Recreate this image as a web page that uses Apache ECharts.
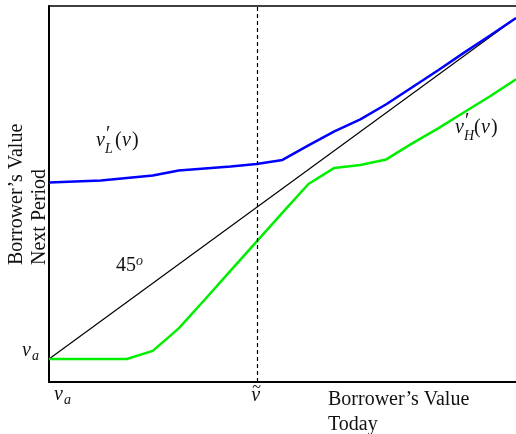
<!DOCTYPE html>
<html><head><meta charset="utf-8">
<script src="https://cdn.jsdelivr.net/npm/echarts@6/dist/echarts.min.js"></script>
<style>html,body{margin:0;padding:0;background:#fff}#c{width:516px;height:434px}</style>
</head><body><div id="c"></div>
<script>
// x positions (abstract units, 0 = v_a)
const xValues = [0,1,2,3,4,5,6,7,8,9,10,11,12,13,14,15,16,17,18];
const vL = [199,200,201,203.5,206,211,213,215,217.5,221.5,236,250,262,277,294,311,328.5,345.5,363];
const vH = [23,23,23,23,31,53.5,82,111,140,169,197.5,213.5,216.5,222,238,253,269,285,302];
const line45 = [[0,23],[18,363]];
const vTilde = 8.03;
const vA = 23;

const chart = echarts.init(document.getElementById('c'), null, {renderer:'canvas'});
const FONT = '"Liberation Serif", "DejaVu Serif", serif';
chart.setOption({
  animation:false,
  backgroundColor:'#fff',
  grid:{left:49,right:0,top:6,bottom:52},
  xAxis:[
    {type:'value',min:0,max:18,axisLine:{show:true,lineStyle:{color:'#000',width:2}},axisTick:{show:false},axisLabel:{show:false},splitLine:{show:false}},
    {type:'value',position:'top',min:0,max:18,axisLine:{show:true,lineStyle:{color:'#000',width:1.5}},axisTick:{show:false},axisLabel:{show:false},splitLine:{show:false}}
  ],
  yAxis:{type:'value',min:0,max:375,axisLine:{show:true,lineStyle:{color:'#000',width:2}},axisTick:{show:false},axisLabel:{show:false},splitLine:{show:false}},
  series:[
    {type:'line',data:line45,symbol:'none',lineStyle:{color:'#000',width:1.2},z:2,
     markLine:{silent:true,symbol:'none',label:{show:false},lineStyle:{color:'#000',type:[4,3],width:1.2},data:[{xAxis:vTilde}]}},
    {type:'line',data:xValues.map((x,i)=>[x,vL[i]]),symbol:'none',lineStyle:{color:'#0000ff',width:2.5},z:3},
    {type:'line',data:xValues.map((x,i)=>[x,vH[i]]),symbol:'none',lineStyle:{color:'#00ee00',width:2.5},z:3}
  ]
});

function px(x,y){return chart.convertToPixel({xAxisIndex:0,yAxisIndex:0},[x,y]);}
const g=[];
function t(x,y,text,size,italic,font){
  g.push({type:'text',x:x,y:y,style:{text:text,font:(italic?'italic ':'')+size+'px '+(font||FONT),fill:'#111',textAlign:'left',textVerticalAlign:'middle'}});
}
// y-axis v_a
const pa = px(0,vA);
t(22,pa[1]-8,'v',20,true);
t(32,pa[1]-3,'a',14,true);
// x-axis v_a
const pb = px(0,0);
t(pb[0]+5,pb[1]+13,'v',20,true);
t(pb[0]+15,pb[1]+18,'a',14,true);
// v tilde
const pt = px(vTilde,0);
t(pt[0]-6,pt[1]+14,'v',20,true);
t(pt[0]-5,pt[1]+6,'~',16,false);
// v'_L(v)
function vprime(x,y,sub){
  t(x,y,'v',20,true);
  t(x+10,y-6,'′',20,false);
  t(x+9,y+8,sub,14,true);
  t(x+19,y,'(',20,false);
  t(x+26,y,'v',20,true);
  t(x+36,y,')',20,false);
}
vprime(96,141,'L');
vprime(455,128,'H');
// 45^o
t(116,266,'45',20,false);
t(136,261,'o',14,true);
// axis titles
t(328,400,"Borrower’s Value",20,false);
t(328,425,"Today",20,false);
g.push({type:'text',x:17,y:265,rotation:Math.PI/2,style:{text:"Borrower’s Value",font:'20px '+FONT,fill:'#111',textAlign:'left',textVerticalAlign:'middle'}});
g.push({type:'text',x:40,y:265,rotation:Math.PI/2,style:{text:"Next Period",font:'20px '+FONT,fill:'#111',textAlign:'left',textVerticalAlign:'middle'}});
chart.setOption({graphic:g});
</script>
</body></html>
